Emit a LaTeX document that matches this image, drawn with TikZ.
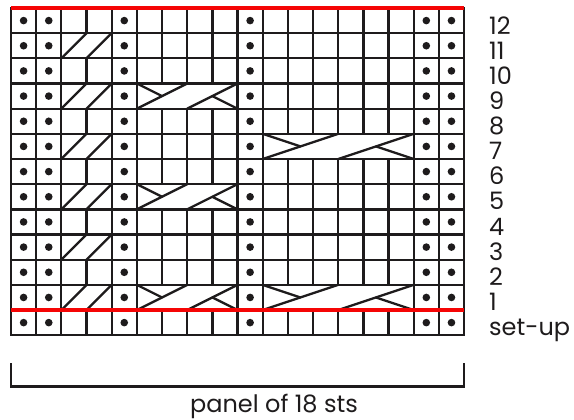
\documentclass[tikz,border=0pt]{standalone}
\usepackage{fontspec}
\setmainfont{Poppins}
\definecolor{ink}{RGB}{30,27,28}
\definecolor{rowred}{RGB}{245,5,5}
\tikzset{
  gridline/.style={draw=ink, line width=2.3pt},
  cableline/.style={draw=ink, line width=2.3pt, line cap=round},
  redline/.style={draw=rowred, line width=4.8pt},
  purl/.style={fill=ink},
  rowlabel/.style={anchor=base west, inner sep=0pt, font=\fontsize{24}{24}\selectfont, text=ink},
  captiontext/.style={anchor=base, inner sep=0pt, font=\fontsize{24}{24}\selectfont, text=ink}
}
% cell size and chart origin (top-left corner)
\def\cs{25.17}
\def\gx{11}
\def\gy{8}
% \cablemark{first boundary}{stitches}{row}
\newcommand{\cablemark}[3]{%
  \pgfmathsetmacro{\xa}{\gx+#1*\cs}%
  \pgfmathsetmacro{\xb}{\gx+(#1+#2/2)*\cs}%
  \pgfmathsetmacro{\xc}{\gx+(#1+#2)*\cs}%
  \pgfmathsetmacro{\xq}{\gx+(#1+#2/4)*\cs}%
  \pgfmathsetmacro{\xr}{\gx+(#1+3*#2/4)*\cs}%
  \pgfmathsetmacro{\yt}{\gy+(12-#3)*\cs}%
  \pgfmathsetmacro{\yb}{\yt+\cs}%
  \pgfmathsetmacro{\ym}{\yt+\cs/2}%
  \draw[cableline] (\xa,\yb) -- (\xb,\yt);
  \draw[cableline] (\xb,\yb) -- (\xc,\yt);
  \ifnum#2>2
    \draw[cableline] (\xa,\yt) -- (\xq,\ym);
    \draw[cableline] (\xc,\yb) -- (\xr,\ym);
  \fi
}
\begin{document}
\begin{tikzpicture}[x=1pt,y=-1pt]
\useasboundingbox (0,0) rectangle (574,420);
\fill[white] (0,0) rectangle (574,420);

% horizontal rules
\foreach \r in {0,...,13}
  \draw[gridline] (\gx,{\gy+\r*\cs}) -- ({\gx+18*\cs},{\gy+\r*\cs});

% column rules running the full height
\foreach \b in {0,1,2,4,5,9,10,16,17,18}
  \draw[gridline] ({\gx+\b*\cs},\gy) -- ({\gx+\b*\cs},{\gy+13*\cs});

% rules inside the two-stitch cable (open on cable rows)
\foreach \r in {0,2,4,6,8,10,12}
  \draw[gridline] ({\gx+3*\cs},{\gy+(12-\r)*\cs}) -- ({\gx+3*\cs},{\gy+(13-\r)*\cs});

% rules inside the four-stitch cable
\foreach \r in {0,2,3,4,6,7,8,10,11,12}
  \foreach \b in {6,7,8}
    \draw[gridline] ({\gx+\b*\cs},{\gy+(12-\r)*\cs}) -- ({\gx+\b*\cs},{\gy+(13-\r)*\cs});

% rules inside the six-stitch cable
\foreach \r in {0,2,3,4,5,6,8,9,10,11,12}
  \foreach \b in {11,...,15}
    \draw[gridline] ({\gx+\b*\cs},{\gy+(12-\r)*\cs}) -- ({\gx+\b*\cs},{\gy+(13-\r)*\cs});

% outer frame drawn once more so the corners close cleanly
\draw[gridline, line cap=rect] (\gx,\gy) rectangle ({\gx+18*\cs},{\gy+13*\cs});

% purl dots
\foreach \r in {0,...,12}
  \foreach \c in {0,1,4,9,16,17}
    \fill[purl] ({\gx+(\c+0.5)*\cs},{\gy+(12.5-\r)*\cs}) circle (3.8);

% cable crossings
\foreach \r in {1,3,5,7,9,11} {\cablemark{2}{2}{\r}}
\foreach \r in {1,5,9} {\cablemark{5}{4}{\r}}
\foreach \r in {1,7} {\cablemark{10}{6}{\r}}

% red rules: top edge and end of set-up row
\draw[redline] (\gx,\gy) -- ({\gx+18*\cs},\gy);
\draw[redline] (\gx,{\gy+12*\cs}) -- ({\gx+18*\cs},{\gy+12*\cs});

% row numbers
\foreach \k in {1,...,12}
  \node[rowlabel] (row\k) at (489,{35+(12-\k)*25.0}) {\k};
\node[rowlabel] (rowsetup) at (489,335.1) {set-up};

% panel bracket
\draw[line width=2.5pt, draw=ink] (\gx,363) -- (\gx,386.5) -- ({\gx+18*\cs},386.5) -- ({\gx+18*\cs},363);
\node[captiontext] (panel) at (274,412) {panel of 18 sts};
\end{tikzpicture}
\end{document}
